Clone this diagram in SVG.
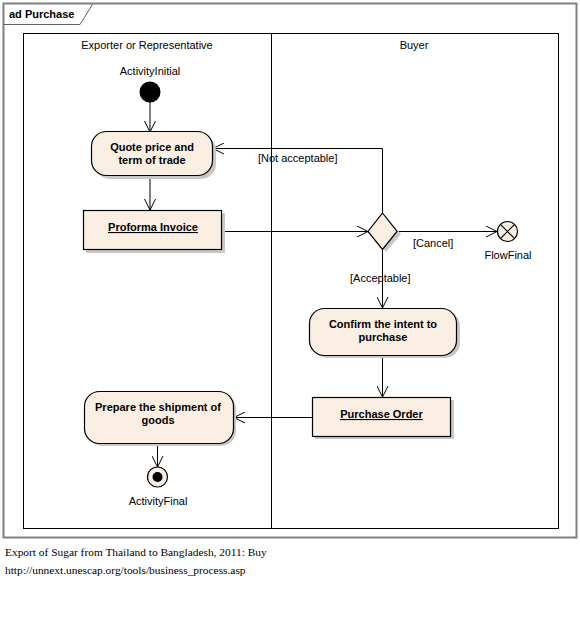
<svg xmlns="http://www.w3.org/2000/svg" width="580" height="624" viewBox="0 0 580 624">
<style>
.t{font-family:"Liberation Sans",Arial,sans-serif;font-size:11px;fill:#000}
.b{font-family:"Liberation Sans",Arial,sans-serif;font-size:11px;font-weight:bold;fill:#000}
.cap{font-family:"Liberation Serif","Times New Roman",serif;font-size:11.4px;fill:#000}
.node{fill:#FAEFE2;stroke:#000;stroke-width:1.2}
.sh{fill:#C8C8C8}
.edge{fill:none;stroke:#000;stroke-width:1}
</style>
<defs>
<marker id="arr" markerWidth="12" markerHeight="12" refX="11" refY="6" orient="auto" markerUnits="userSpaceOnUse">
<path d="M0,0.5 L11,6 L0,11.5" fill="none" stroke="#000" stroke-width="1"/>
</marker>
</defs>
<rect x="0" y="0" width="580" height="624" fill="#fff"/>
<g id="frame">
<rect x="3.5" y="3.5" width="573" height="534" fill="none" stroke="#808080" stroke-width="2"/>
<path d="M3.5,24.5 L80,24.5 L93,3.5" fill="none" stroke="#606060" stroke-width="1"/>
<text class="b" x="9" y="18">ad Purchase</text>
</g>
<g id="partition">
<rect x="23.5" y="33.5" width="535" height="495" fill="none" stroke="#000" stroke-width="1"/>
<line x1="271.5" y1="33.5" x2="271.5" y2="528.5" stroke="#000" stroke-width="1"/>
<text class="t" x="147" y="49" text-anchor="middle">Exporter or Representative</text>
<text class="t" x="414" y="49" text-anchor="middle">Buyer</text>
</g>
<g id="connectors">
<line class="edge" x1="150" y1="102" x2="150" y2="132" marker-end="url(#arr)"/>
<line class="edge" x1="150" y1="176" x2="150" y2="210" marker-end="url(#arr)"/>
<line class="edge" x1="222" y1="231.5" x2="368" y2="231.5" marker-end="url(#arr)"/>
<polyline class="edge" points="382.5,213 382.5,148.5 213,148.5" marker-end="url(#arr)"/>
<text class="t" x="258" y="162">[Not acceptable]</text>
<line class="edge" x1="397" y1="231.5" x2="497" y2="231.5" marker-end="url(#arr)"/>
<text class="t" x="413" y="247">[Cancel]</text>
<line class="edge" x1="382.5" y1="249" x2="382.5" y2="308" marker-end="url(#arr)"/>
<text class="t" x="350" y="282">[Acceptable]</text>
<line class="edge" x1="382.5" y1="355" x2="382.5" y2="397" marker-end="url(#arr)"/>
<line class="edge" x1="312" y1="417.5" x2="234" y2="417.5" marker-end="url(#arr)"/>
<line class="edge" x1="157.5" y1="443" x2="157.5" y2="467" marker-end="url(#arr)"/>
</g>
<g id="initial">
<text class="t" x="150" y="75" text-anchor="middle">ActivityInitial</text>
<circle cx="150" cy="92" r="10.5" fill="#000"/>
</g>
<g id="quote">
<rect class="sh" x="95" y="135" width="121" height="44" rx="15"/>
<rect class="node" x="91.5" y="131.5" width="121" height="44" rx="15"/>
<text class="b" x="152" y="151" text-anchor="middle">Quote price and</text>
<text class="b" x="152" y="164" text-anchor="middle">term of trade</text>
</g>
<g id="proforma">
<rect class="sh" x="86" y="213" width="139" height="40"/>
<rect class="node" x="83.5" y="210.5" width="138" height="39"/>
<text class="b" x="153" y="231" text-anchor="middle" text-decoration="underline">Proforma Invoice</text>
</g>
<g id="decision">
<polygon class="sh" points="386,216 401,234 386,252 371,234"/>
<polygon class="node" points="382.5,213 397,231.5 382.5,249.5 368,231.5"/>
</g>
<g id="flowfinal">
<circle cx="507.5" cy="231.5" r="10" fill="#FAEFE2" stroke="#000" stroke-width="1.2"/>
<path d="M500.4,224.4 L514.6,238.6 M514.6,224.4 L500.4,238.6" stroke="#000" stroke-width="1.2"/>
<text class="t" x="508" y="259" text-anchor="middle">FlowFinal</text>
</g>
<g id="confirm">
<rect class="sh" x="312" y="311" width="148" height="47" rx="15"/>
<rect class="node" x="309.5" y="308.5" width="147" height="47" rx="15"/>
<text class="b" x="383" y="328" text-anchor="middle">Confirm the intent to</text>
<text class="b" x="383" y="341" text-anchor="middle">purchase</text>
</g>
<g id="purchaseorder">
<rect class="sh" x="315" y="400" width="139" height="39"/>
<rect class="node" x="312.5" y="397.5" width="138" height="39"/>
<text class="b" x="381.5" y="418" text-anchor="middle" text-decoration="underline">Purchase Order</text>
</g>
<g id="prepare">
<rect class="sh" x="87" y="394" width="149" height="52" rx="15"/>
<rect class="node" x="84.5" y="391.5" width="149" height="52" rx="15"/>
<text class="b" x="158" y="411" text-anchor="middle">Prepare the shipment of</text>
<text class="b" x="158" y="424" text-anchor="middle">goods</text>
</g>
<g id="final">
<circle cx="157.5" cy="477" r="10" fill="#FAEFE2" stroke="#000" stroke-width="1.2"/>
<circle cx="157.5" cy="477" r="5" fill="#000"/>
<text class="t" x="158" y="505" text-anchor="middle">ActivityFinal</text>
</g>
<g id="caption">
<text class="cap" x="5" y="556">Export of Sugar from Thailand to Bangladesh, 2011: Buy</text>
<text class="cap" x="5" y="574">http://unnext.unescap.org/tools/business_process.asp</text>
</g>
</svg>
